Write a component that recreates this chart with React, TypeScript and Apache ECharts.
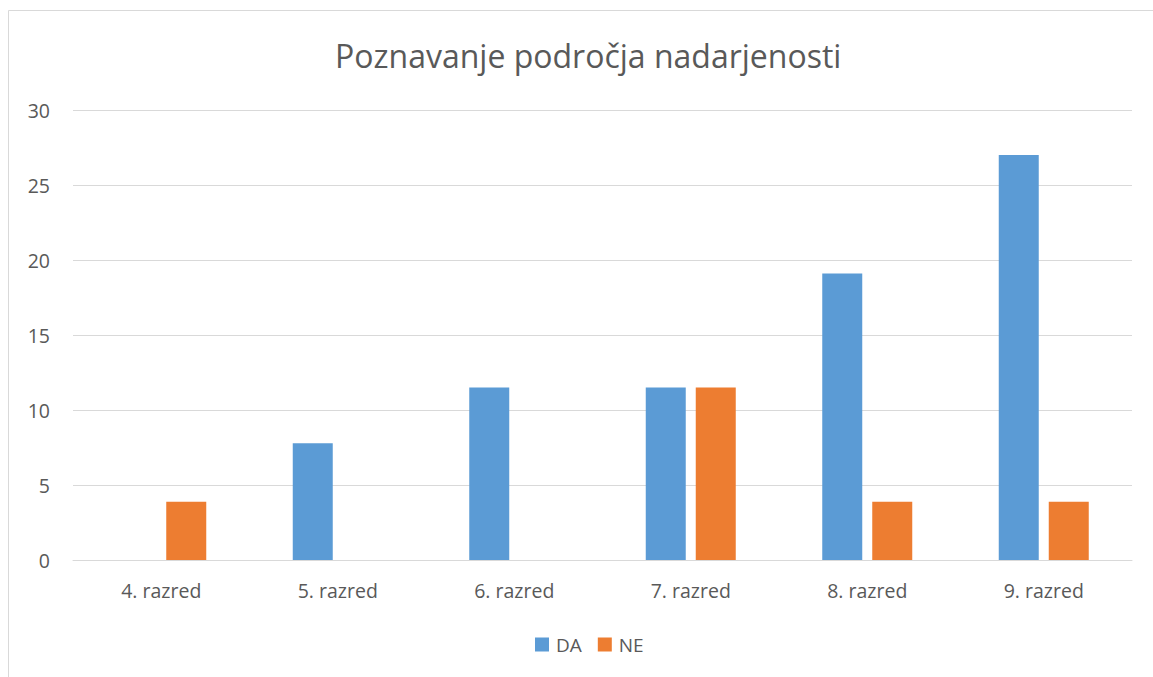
import React, { useEffect, useRef } from "react";
import * as echarts from "echarts";

const categories = ["4. razred", "5. razred", "6. razred", "7. razred", "8. razred", "9. razred"];
const daValues = [0, 7.78, 11.5, 11.5, 19.1, 27];
const neValues = [3.88, 0, 0, 11.5, 3.88, 3.88];
const yTicks = { min: 0, max: 30, interval: 5 };
const titleText = "Poznavanje področja nadarjenosti";

const FONT = "'Open Sans', 'Liberation Sans', sans-serif";

export default function App() {
  const ref = useRef<HTMLDivElement>(null);
  useEffect(() => {
    const chart = echarts.init(ref.current!, null, { renderer: "svg" });
    chart.setOption({
      animation: false,
      backgroundColor: "#ffffff",
      title: {
        text: titleText,
        left: 330,
        top: 34,
        textStyle: { fontFamily: FONT, fontSize: 32, fontWeight: "normal", color: "#595959" },
      },
      graphic: [
        {
          type: "rect",
          shape: { x: 8.5, y: 10.5, width: 1200, height: 700 },
          style: { fill: "none", stroke: "#d9d9d9", lineWidth: 1 },
          silent: true,
        },
      ],
      legend: {
        data: ["DA", "NE"],
        top: 630,
        left: 530,
        icon: "rect",
        itemWidth: 14,
        itemHeight: 14,
        itemGap: 16,
        textStyle: { fontFamily: FONT, fontSize: 19, color: "#595959", padding: [0, 0, 0, 2] },
      },
      grid: { left: 73, right: 21, top: 110, bottom: 117, containLabel: false },
      xAxis: {
        type: "category",
        data: categories,
        axisLine: { show: true, lineStyle: { color: "#d9d9d9", width: 1 } },
        axisTick: { show: false },
        axisLabel: { fontFamily: FONT, fontSize: 19.5, color: "#595959", margin: 20 },
      },
      yAxis: {
        type: "value",
        min: yTicks.min,
        max: yTicks.max,
        interval: yTicks.interval,
        axisLine: { show: false },
        axisTick: { show: false },
        splitLine: { lineStyle: { color: "#d9d9d9", width: 1 } },
        axisLabel: { fontFamily: FONT, fontSize: 19.5, color: "#595959", margin: 23 },
      },
      series: [
        {
          name: "DA",
          type: "bar",
          data: daValues,
          barWidth: 40,
          barGap: "25%",
          itemStyle: { color: "#5b9bd5" },
        },
        {
          name: "NE",
          type: "bar",
          data: neValues,
          barWidth: 40,
          itemStyle: { color: "#ed7d31" },
        },
      ],
    });
    return () => chart.dispose();
  }, []);
  return (
    <div
      ref={ref}
      style={{ position: "fixed", left: 0, top: 0, width: 1153, height: 677 }}
    />
  );
}
